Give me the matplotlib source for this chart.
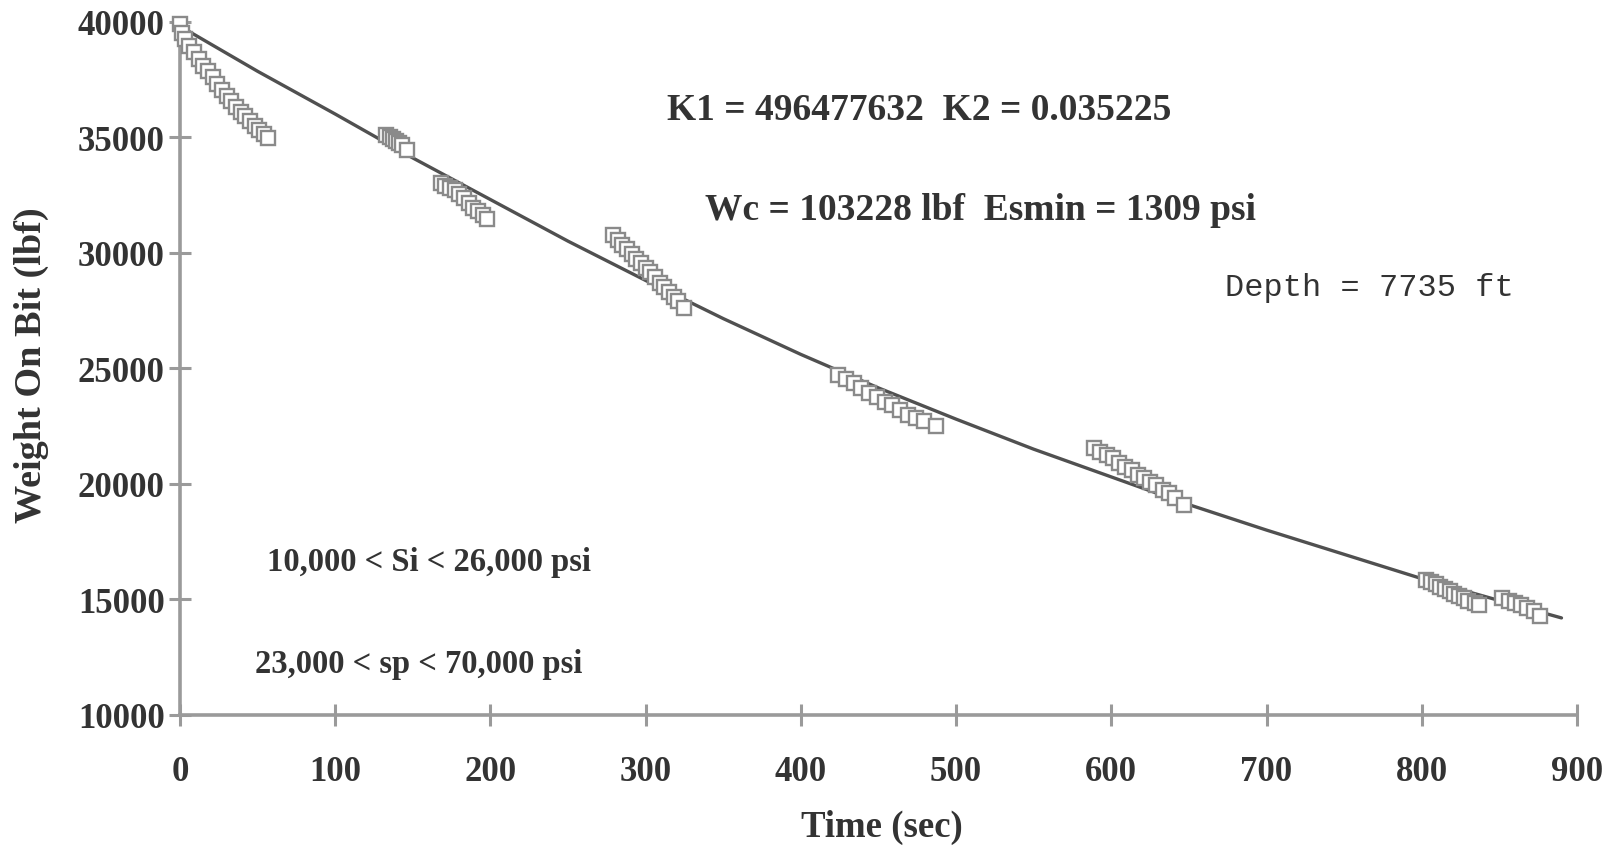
import matplotlib
matplotlib.use("Agg")
import matplotlib.pyplot as plt

# ---- data ----
t1 = [0, 1, 3, 6, 9, 12, 15, 18, 21, 24, 27, 30, 33, 36, 39, 42, 45, 48, 51, 54, 57]
w1 = [39900, 39500, 39250, 38950, 38700, 38400, 38100, 37850, 37600, 37300, 37050,
      36800, 36550, 36300, 36100, 35900, 35700, 35500, 35300, 35150, 34950]
t2 = [133, 135, 137, 139, 141, 143, 146]
w2 = [35100, 35000, 34900, 34850, 34750, 34650, 34450]
t3 = [168, 171, 174, 177, 180, 183, 186, 189, 192, 195, 198]
w3 = [33000, 32900, 32800, 32700, 32550, 32350, 32150, 31950, 31800, 31650, 31450]
t4 = [279, 282, 285, 288, 291, 294, 297, 300, 303, 306, 309, 312, 315, 318, 321, 325]
w4 = [30750, 30550, 30350, 30150, 29950, 29750, 29550, 29350, 29150, 28950, 28700,
      28500, 28300, 28100, 27900, 27600]
t5 = [424, 429, 434, 439, 444, 449, 454, 459, 464, 469, 474, 479, 487]
w5 = [24700, 24550, 24350, 24150, 23950, 23750, 23550, 23400, 23200, 23000, 22850, 22700, 22500]
t6 = [589, 593, 597, 601, 605, 609, 613, 617, 621, 625, 629, 633, 637, 641, 647]
w6 = [21550, 21400, 21250, 21100, 20900, 20750, 20600, 20400, 20250, 20100, 19950,
      19750, 19600, 19400, 19100]
t7 = [803, 806, 809, 812, 815, 818, 821, 824, 827, 830, 834, 837]
w7 = [15850, 15750, 15650, 15550, 15450, 15350, 15250, 15150, 15050, 14950, 14850, 14750]
t8 = [852, 856, 860, 864, 868, 872, 876]
w8 = [15050, 14950, 14850, 14750, 14650, 14500, 14300]

fit_t = [0, 50, 100, 150, 200, 250, 300, 350, 400, 450, 500, 550, 600, 650, 700,
         750, 800, 850, 890]
fit_w = [39800, 37850, 36000, 34100, 32300, 30500, 28800, 27150, 25600, 24150, 22800,
         21500, 20300, 19100, 18000, 16950, 15900, 14950, 14200]

x_ticks = [0, 100, 200, 300, 400, 500, 600, 700, 800, 900]
y_ticks = [10000, 15000, 20000, 25000, 30000, 35000, 40000]

# ---- figure ----
W, H = 1611, 853
fig = plt.figure(figsize=(W / 100, H / 100), dpi=100)
left, right, top, bottom = 180, 1577, 22.6, 716
ax = fig.add_axes([left / W, 1 - bottom / H, (right - left) / W, (bottom - top) / H])

SERIF = ["Liberation Serif", "DejaVu Serif"]
txt_col = "#333333"
axis_col = "#9a9a9a"

ax.plot(fit_t, fit_w, color="#505050", lw=2.4, zorder=2, solid_capstyle="round")
for tt, ww in [(t1, w1), (t2, w2), (t3, w3), (t4, w4), (t5, w5), (t6, w6), (t7, w7), (t8, w8)]:
    ax.plot(tt, ww, ls="none", marker="s", ms=10, mfc="white", mec="#8a8a8a",
            mew=1.7, zorder=3, clip_on=False)

ax.set_xlim(0, 900)
ax.set_ylim(10000, 40000)
ax.set_xticks(x_ticks)
ax.set_yticks(y_ticks)
for s in ["top", "right"]:
    ax.spines[s].set_visible(False)
for s in ["left", "bottom"]:
    ax.spines[s].set_color(axis_col)
    ax.spines[s].set_linewidth(2.6)
ax.tick_params(axis="both", direction="inout", length=16, width=2.2, color=axis_col,
               labelcolor=txt_col)
ax.tick_params(axis="x", pad=21)
ax.tick_params(axis="y", pad=3)
for lab in ax.get_xticklabels() + ax.get_yticklabels():
    lab.set_fontfamily(SERIF)
    lab.set_fontweight("bold")
    lab.set_fontsize(25)

def ftext(x, y, s, **kw):
    fig.text(x / W, 1 - y / H, s, color=txt_col, **kw)

ftext(882, 827, "Time (sec)", ha="center", va="center", family=SERIF,
      fontweight="bold", fontsize=26.5)
ftext(31, 365, "Weight On Bit (lbf)", ha="center", va="center", family=SERIF,
      fontweight="bold", fontsize=27.5, rotation=90)
ftext(919, 110, "K1 = 496477632  K2 = 0.035225", ha="center", va="center",
      family=SERIF, fontweight="bold", fontsize=27)
ftext(980, 211, "Wc = 103228 lbf  Esmin = 1309 psi", ha="center", va="center",
      family=SERIF, fontweight="bold", fontsize=27)
ftext(1225, 288, "Depth = 7735 ft", ha="left", va="center",
      family=["Liberation Mono", "DejaVu Sans Mono"], fontsize=23)
ftext(267, 563, "10,000 < Si < 26,000 psi", ha="left", va="center",
      family=SERIF, fontweight="bold", fontsize=23.5)
ftext(255, 665, "23,000 < sp < 70,000 psi", ha="left", va="center",
      family=SERIF, fontweight="bold", fontsize=23.5)

fig.savefig("out.png", dpi=100, facecolor="white")
